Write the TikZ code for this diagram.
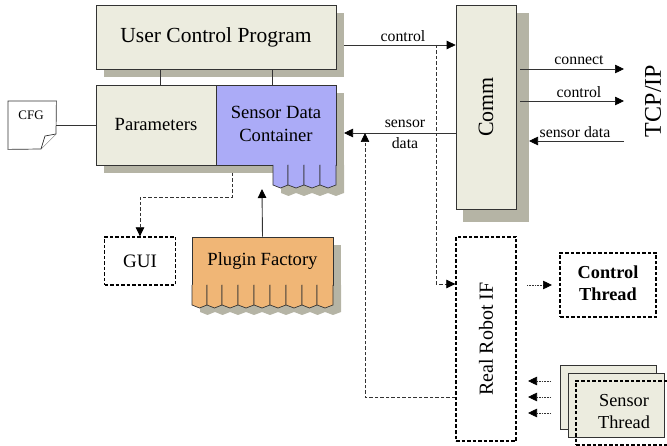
\documentclass[tikz,border=0pt]{standalone}
\usepackage{fontspec}
\setmainfont{Liberation Serif}
\usetikzlibrary{arrows.meta}

\definecolor{boxbeige}{HTML}{ECECDF}
\definecolor{boxshadow}{HTML}{B5B4A5}
\definecolor{boxblue}{HTML}{ABABF7}
\definecolor{boxorange}{HTML}{F0B676}
\definecolor{boxline}{HTML}{333333}
\newcommand{\liftlines}[2]{\raisebox{#1}{\begin{tabular}{@{}c@{}}#2\end{tabular}}}

\begin{document}
\begin{tikzpicture}[x=1pt,y=-1pt]
\tikzset{>={Triangle[length=9pt,width=8.5pt,color=black]}}
\tikzstyle{every node}=[inner sep=0pt,align=center]
\tikzstyle{solidbox}=[rectangle,draw=boxline,line width=0.7pt,fill=boxbeige]
\tikzstyle{dashbox}=[rectangle,draw=black,line width=1.3pt,dash pattern=on 3.5pt off 2pt]
\tikzstyle{label}=[font=\fontsize{15.8}{17}\selectfont]
\tikzstyle{wire}=[draw=boxline,line width=0.7pt]
\tikzstyle{dashwire}=[wire,dash pattern=on 3.5pt off 2pt]
\tikzstyle{dotwire}=[wire,dash pattern=on 1pt off 0.6pt,draw=boxline]
\useasboundingbox (0,0) rectangle (667,446);

% shadows
\foreach \x/\y/\u/\v in {104/13/344/77, 104/93/344/173, 463/13/529/222, 200/245/341/293}
  \fill[boxshadow] (\x,\y) rectangle (\u,\v);
\foreach \x/\u in {281/296,296/312,312/328,328/344}
  \fill[boxshadow] (\x,165) -- (\x,193) -- ({(\x+\u)/2},196) -- (\u,193) -- (\u,165) -- cycle;
\foreach \x/\u in {200/215,215/230,230/246,246/262,262/278,278/294,294/310,310/325,325/341}
  \fill[boxshadow] (\x,285) -- (\x,312) -- ({(\x+\u)/2},315) -- (\u,312) -- (\u,285) -- cycle;

% connector ends
\coordinate (ctrlIn) at (344,45);
\coordinate (dataOut) at (344,133);
\coordinate (guiTurn) at (232,197);
\coordinate (guiFrom) at (232,173);
\coordinate (factoryTip) at (262,189);
\coordinate (ctrlDrop) at (436,45);
\coordinate (ctrlTurn) at (436,284);
\coordinate (dataRise) at (365,397);

% boxes
\node[solidbox,minimum width=240,minimum height=64,font=\fontsize{21.5}{24}\selectfont] (user) at (216,37) {\raisebox{-2pt}{User Control Program}};
\node[solidbox,minimum width=120,minimum height=80,font=\fontsize{18.6}{21}\selectfont] (params) at (156,125) {\raisebox{2pt}{Parameters}};
\node[solidbox,fill=boxblue,minimum width=120,minimum height=80,font=\fontsize{18.6}{23}\selectfont] (container) at (276,125) {\liftlines{2pt}{Sensor Data\\Container}};
\node[solidbox,fill=boxorange,minimum width=141,minimum height=48,font=\fontsize{18.6}{21}\selectfont] (factory) at (262.5,261) {\raisebox{-2pt}{Plugin Factory}};
\node[dashbox,minimum width=71,minimum height=48,font=\fontsize{19}{21}\selectfont] (gui) at (140,261) {GUI};
\node[solidbox,minimum width=60,minimum height=204,font=\fontsize{21.9}{24}\selectfont] (comm) at (486,107) {\rotatebox{90}{Comm}};
\node[dashbox,minimum width=60,minimum height=204,font=\fontsize{20}{23}\selectfont] (robot) at (486,339) {\rotatebox{90}{Real Robot IF}};
\node[dashbox,minimum width=96,minimum height=64,font=\bfseries\fontsize{18.3}{22.5}\selectfont] (control) at (608,285) {\liftlines{2pt}{Control\\Thread}};
\node[solidbox,minimum width=96,minimum height=64] (threadA) at (608,397) {};
\node[solidbox,minimum width=96,minimum height=64] (threadB) at (616,405) {};
\node[dashbox,minimum width=96,minimum height=64,font=\fontsize{18.3}{22.5}\selectfont] (threadC) at (624,413) {\liftlines{2pt}{Sensor\\Thread}};
\node[font=\fontsize{24}{26}\selectfont] (tcp) at (653,101) {\rotatebox{90}{TCP/IP}};

% cfg sheet
\node[minimum width=48,minimum height=48,anchor=north west] (cfg) at (8,101) {};
\draw[wire,fill=white] (cfg.north west) -- (cfg.north east) -- (56,134) -- (41,149) -- (cfg.south west) -- cycle;
\draw[wire,fill=white] (56,134) -- (45,136) -- (41,149);
\node[font=\fontsize{13}{14}\selectfont] (cfgtext) at (31,115) {CFG};

% teeth
\foreach \x/\u in {273/288,288/304,304/320,320/336}
  \draw[wire,fill=boxblue] (\x,165) -- (\x,185) -- ({(\x+\u)/2},188) -- (\u,185) -- (\u,165);
\foreach \x/\u in {192/207,207/222,222/238,238/254,254/270,270/286,286/302,302/317,317/333}
  \draw[wire,fill=boxorange] (\x,285) -- (\x,305) -- ({(\x+\u)/2},308) -- (\u,305) -- (\u,285);

% connectors
\coordinate (paramsTop) at (160,85);
\coordinate (containerTop) at (272,85);
\draw[wire] (paramsTop |- user.south) -- (paramsTop);
\draw[wire] (containerTop |- user.south) -- (containerTop);
\draw[wire] (cfg.east |- params.west) -- (params.west);
\draw[wire,->] (ctrlIn) -- (comm.west |- ctrlIn);
\draw[wire,->] (comm.west |- dataOut) -- (dataOut);
\draw[dashwire,->] (ctrlDrop) -- (ctrlTurn) -- (robot.west |- ctrlTurn);
\draw[dashwire,->] (robot.west |- dataRise) -- (dataRise) -- (dataRise |- dataOut);
\draw[dashwire,->] (guiFrom) -- (guiTurn) -- (gui.north |- guiTurn) -- (gui.north);
\draw[wire,line width=0.9pt,->] (factory.north) -- (factoryTip);

\coordinate (commA) at (520,69);
\coordinate (commB) at (520,101);
\coordinate (commC) at (529,141);
\coordinate (tcpA) at (624,69);
\coordinate (tcpB) at (624,101);
\coordinate (tcpC) at (624,141);
\draw[wire,->] (commA) -- (tcpA);
\draw[wire,->] (commB) -- (tcpB);
\draw[wire,->] (tcpC) -- (commC);

\coordinate (robotOut) at (527,285);
\coordinate (controlIn) at (552,285);
\draw[dotwire,->] (robotOut) -- (controlIn);
\foreach \n/\y in {a/381,b/397,c/413} {
  \coordinate (threadOut\n) at (551,\y);
  \coordinate (robotIn\n) at (528,\y);
  \draw[dotwire,->] (threadOut\n) -- (robotIn\n);
}

% labels
\node[label] (lblControl) at (403,36) {control};
\node[label] (lblSensor) at (405,124) {sensor};
\node[label] (lblData) at (405,143) {data};
\node[label] (lblConnect) at (579,60) {connect};
\node[label] (lblControlB) at (579,92) {control};
\node[label] (lblSensorData) at (575,132) {sensor data};
\end{tikzpicture}
\end{document}
